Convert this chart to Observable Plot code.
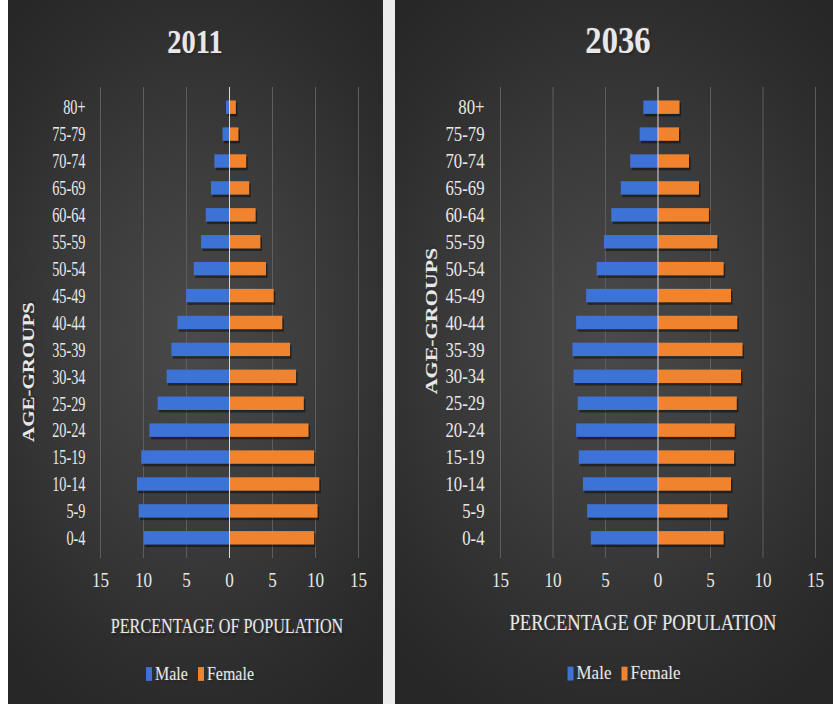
<!DOCTYPE html>
<html>
<head>
<meta charset="utf-8">
<script src="https://cdn.jsdelivr.net/npm/d3@7"></script>
<script src="https://cdn.jsdelivr.net/npm/@observablehq/plot@0.6"></script>
<style>
  html, body { margin: 0; padding: 0; background: #ffffff; }
  body { width: 833px; height: 704px; position: relative; overflow: hidden; font-family: "Liberation Serif", "DejaVu Serif", serif; }
  .gap { position: absolute; left: 383px; top: 0; width: 12px; height: 704px; background: #ececec; }
  .panel { position: absolute; top: 0; height: 704px; overflow: hidden;
    background: radial-gradient(ellipse 75% 60% at 50% 48%, #4a4a4a 0%, #3b3b3b 45%, #2d2d2d 80%, #272727 100%); }
  .panel svg { position: absolute; left: 0; top: 0; }
  .abs { position: absolute; white-space: nowrap; color: #e8e8e8; line-height: 1;
    text-shadow: 0 0 2px rgba(255,255,255,0.25), 1px 1px 2px rgba(0,0,0,0.6); }
  .title { font-weight: bold; }
  .ytitle { font-weight: bold; }
  .legend span.sw { display: inline-block; width: 6px; height: 12px; margin-right: 3px; vertical-align: -1px; }
  .legend span.item { margin: 0 5px; }
</style>
</head>
<body>
<div class="gap"></div>
<div id="left" class="panel" style="left:8px; width:375px;"></div>
<div id="right" class="panel" style="left:395px; width:438px;"></div>
<script>
// ---- data (bottom to top) ----
const ages = ["0-4","5-9","10-14","15-19","20-24","25-29","30-34","35-39","40-44","45-49","50-54","55-59","60-64","65-69","70-74","75-79","80+"];
const male2011   = [9.9, 10.5, 10.7, 10.2, 9.25, 8.3, 7.25, 6.7, 6.0, 5.0, 4.1, 3.25, 2.7, 2.1, 1.7, 0.75, 0.35];
const female2011 = [9.9, 10.3, 10.5, 9.9, 9.25, 8.7, 7.8, 7.1, 6.2, 5.2, 4.3, 3.65, 3.1, 2.35, 2.0, 1.1, 0.8];
const male2036   = [6.35, 6.7, 7.1, 7.5, 7.75, 7.6, 8.0, 8.1, 7.75, 6.8, 5.8, 5.1, 4.4, 3.5, 2.6, 1.7, 1.35];
const female2036 = [6.3, 6.65, 7.0, 7.3, 7.35, 7.55, 7.95, 8.1, 7.6, 7.0, 6.3, 5.7, 4.9, 3.95, 3.0, 2.05, 2.1];
const xTicks = [-15, -10, -5, 0, 5, 10, 15];
const sexes = ["Male", "Female"];
const colors = ["#3d72d6", "#f0832e"];
const xTitle = "PERCENTAGE OF POPULATION";
const yTitle = "AGE-GROUPS";

function rows(male, female) {
  const out = [];
  ages.forEach((a, i) => {
    out.push({age: a, sex: "Male", value: -male[i]});
    out.push({age: a, sex: "Female", value: female[i]});
  });
  return out;
}

function stretchTexts(svg, selector, sx, sy) {
  svg.querySelectorAll(selector).forEach(t => {
    const tr = t.getAttribute("transform");
    if (tr && /translate/.test(tr)) {
      t.setAttribute("transform", tr + ` scale(${sx},${sy})`);
    } else {
      const x = +(t.getAttribute("x") || 0), y = +(t.getAttribute("y") || 0);
      t.setAttribute("transform", `translate(${x},${y}) scale(${sx},${sy}) translate(${-x},${-y})`);
    }
  });
}

function makePlot(cfg) {
  const data = rows(cfg.male, cfg.female);
  const svg = Plot.plot({
    width: cfg.width, height: 704,
    marginLeft: cfg.ml, marginRight: cfg.mr, marginTop: 87, marginBottom: 146,
    style: {background: "transparent", color: "#e8e8e8", fontFamily: "'Liberation Serif', serif", fontSize: cfg.yFont + "px"},
    x: {domain: [-15, 15], label: null},
    y: {domain: ages.slice().reverse(), padding: 0.5, round: false, label: null},
    color: {domain: sexes, range: colors},
    marks: [
      Plot.ruleX(xTicks.filter(d => d !== 0), {stroke: "#5e5e5e", strokeWidth: 1}),
      Plot.barX(data, {x: "value", y: "age", fill: "#000", fillOpacity: 0.45, dx: 1.5, dy: 2.5}),
      Plot.barX(data, {x: "value", y: "age", fill: "sex"}),
      Plot.ruleX([0], {stroke: "#d8d8d8", strokeWidth: 1}),
      Plot.axisX({ticks: xTicks, tickFormat: d => Math.abs(d), tickSize: 0, tickPadding: 13, fontSize: 18, label: null}),
      Plot.axisY({tickSize: 0, tickPadding: cfg.tp, label: null, fontSize: cfg.yFont})
    ]
  });
  stretchTexts(svg, 'g[aria-label="x-axis tick label"] text', 0.95, 1.2);
  stretchTexts(svg, 'g[aria-label="y-axis tick label"] text', cfg.ysx, cfg.ysy);
  return svg;
}

function addText(panel, text, x, y, size, cls, sx, sy, rot) {
  const d = document.createElement("div");
  d.className = "abs " + (cls || "");
  d.style.left = x + "px"; d.style.top = y + "px"; d.style.fontSize = size + "px";
  d.style.transform = `translate(-50%, -50%) ${rot ? "rotate(-90deg)" : ""} scale(${sx}, ${sy})`;
  d.textContent = text;
  panel.appendChild(d);
  return d;
}

function addLegend(panel, x, y, size) {
  const d = document.createElement("div");
  d.className = "abs legend";
  d.style.left = x + "px"; d.style.top = y + "px"; d.style.fontSize = size + "px";
  d.style.transform = "translate(-50%, -50%) scale(1, 1.15)";
  sexes.forEach((s, i) => {
    const it = document.createElement("span");
    it.className = "item";
    const sw = document.createElement("span");
    sw.className = "sw"; sw.style.background = colors[i];
    it.appendChild(sw);
    it.appendChild(document.createTextNode(s));
    d.appendChild(it);
  });
  panel.appendChild(d);
}

const cfgs = [
  {id: "left", year: "2011", male: male2011, female: female2011, width: 375, ml: 92, mr: 25, tp: 15, yFont: 17, ysx: 0.84, ysy: 1.25,
   titleX: 187, titleSize: 30, tsx: 0.95, tsy: 1.15, ytX: 21, ytY: 372, ytSize: 21, xlX: 219, xlY: 627, xlSize: 16.2, xsy: 1.3, lgX: 192, lgY: 674, lgSize: 16},
  {id: "right", year: "2036", male: male2036, female: female2036, width: 438, ml: 105, mr: 18, tp: 16, yFont: 18, ysx: 0.93, ysy: 1.15,
   titleX: 223, titleSize: 34, tsx: 0.96, tsy: 1.12, ytX: 36, ytY: 321, ytSize: 22, xlX: 248, xlY: 623, xlSize: 18.6, xsy: 1.2, lgX: 229, lgY: 673, lgSize: 17}
];

cfgs.forEach(c => {
  const panel = document.getElementById(c.id);
  panel.appendChild(makePlot(c));
  addText(panel, c.year, c.titleX, 41, c.titleSize, "title", c.tsx, c.tsy, false);
  addText(panel, yTitle, c.ytX, c.ytY, c.ytSize, "ytitle", 1, 0.8, true);
  addText(panel, xTitle, c.xlX, c.xlY, c.xlSize, "", 1, c.xsy, false);
  addLegend(panel, c.lgX, c.lgY, c.lgSize);
});
</script>
</body>
</html>
